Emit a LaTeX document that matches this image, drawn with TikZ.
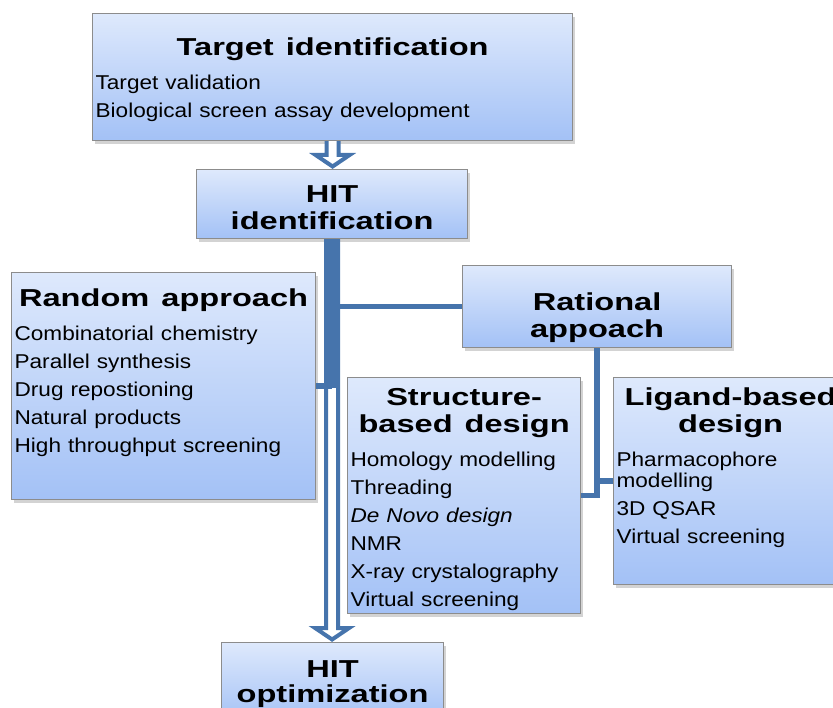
\documentclass[tikz,border=0pt]{standalone}
\usepackage{fontspec}
\usetikzlibrary{calc,shadows}
\newfontfamily\ttlfont[FakeStretch=1.33]{Liberation Sans}
\newfontfamily\bodyfont[FakeStretch=1.13]{Liberation Sans}
\newcommand\ttl{\ttlfont\bfseries\fontsize{24.5}{27}\selectfont\spaceskip=12pt}
\newcommand\bdy{\bodyfont\fontsize{20}{28}\selectfont\spaceskip=7pt}
\definecolor{boxtop}{RGB}{222,233,252}
\definecolor{boxbot}{RGB}{163,193,246}
\definecolor{boxline}{RGB}{140,140,140}
\definecolor{linkblue}{RGB}{70,116,172}
\setlength{\parskip}{0pt}
\tikzset{
  stage/.style={draw=boxline, line width=1.2pt, top color=boxtop, bottom color=boxbot,
    drop shadow={shadow xshift=2.5pt, shadow yshift=-3pt, opacity=0.35},
    anchor=north west, align=left, inner xsep=3pt, inner ysep=0pt},
  link/.style={draw=linkblue, line width=5.5pt},
  hollow/.style={draw=linkblue, fill=white, line width=4pt, line join=miter},
}
% hollow block arrow between two anchors
\newcommand\hollowarrow[2]{%
  \path[hollow] let \p1=(#1), \p2=(#2) in
    (\x1-6pt,\y1) -- (\x1-6pt,\y2+14pt) -- (\x1-17pt,\y2+14pt) -- (\x1,\y2+2.5pt)
    -- (\x1+17pt,\y2+14pt) -- (\x1+6pt,\y2+14pt) -- (\x1+6pt,\y1);}
\begin{document}
\begin{tikzpicture}[x=1pt,y=-1pt]
  \useasboundingbox (0,0) rectangle (833,708);
  \clip (0,0) rectangle (833,708);

  \node[stage, text width=474pt, text height=42pt, text depth=85pt] (tgt) at (92,13)
    {{\ttl\centering Target identification\par}\vspace{6pt}
     {\bdy Target validation\\Biological screen assay development\par}};
  \node[stage, text width=265pt, text height=33pt, text depth=36pt] (hit) at (196,169)
    {{\ttl\centering HIT\\identification\par}};
  \node[stage, text width=298pt, text height=34pt, text depth=193pt] (rand) at (11,272)
    {{\ttl\centering Random approach\par}\vspace{6pt}
     {\bdy Combinatorial chemistry\\Parallel synthesis\\Drug repostioning\\
      Natural products\\High throughput screening\par}};
  \node[stage, text width=263pt, text height=45pt, text depth=37pt] (rat) at (462,265)
    {{\ttl\centering Rational\\appoach\par}};
  \node[stage, text width=227pt, text height=28pt, text depth=208pt] (str) at (347,377)
    {{\ttl\centering Structure-\\based design\par}\vspace{6pt}
     {\bdy Homology modelling\\Threading\\{\itshape De Novo design}\\NMR\\
      X-ray crystalography\\Virtual screening\par}};
  \node[stage, text width=228pt, text height=28pt, text depth=179pt] (lig) at (613,377)
    {{\ttl\centering Ligand-based\\design\par}\vspace{6pt}
     {\bdy Pharmacophore\\[-7pt]modelling\\3D QSAR\\Virtual screening\par}};
  \node[stage, text width=216pt, text height=35pt, text depth=45pt] (opt) at (221,642)
    {{\ttl\centering HIT\\[-2pt]optimization\par}};

  \hollowarrow{tgt.south}{hit.north}
  \hollowarrow{hit.south}{opt.north}
  \draw[link, line width=10pt] (hit.south) -- ($(hit.south |- rand.east)+(0,2)$);
  \draw[link] (rand.east) -- (hit.south |- rand.east);
  \draw[link] (hit.south) |- (rat.west);
  \draw[link] (rat.south) |- (str.east);
  \draw[link] (rat.south) |- (lig.west);
\end{tikzpicture}
\end{document}
